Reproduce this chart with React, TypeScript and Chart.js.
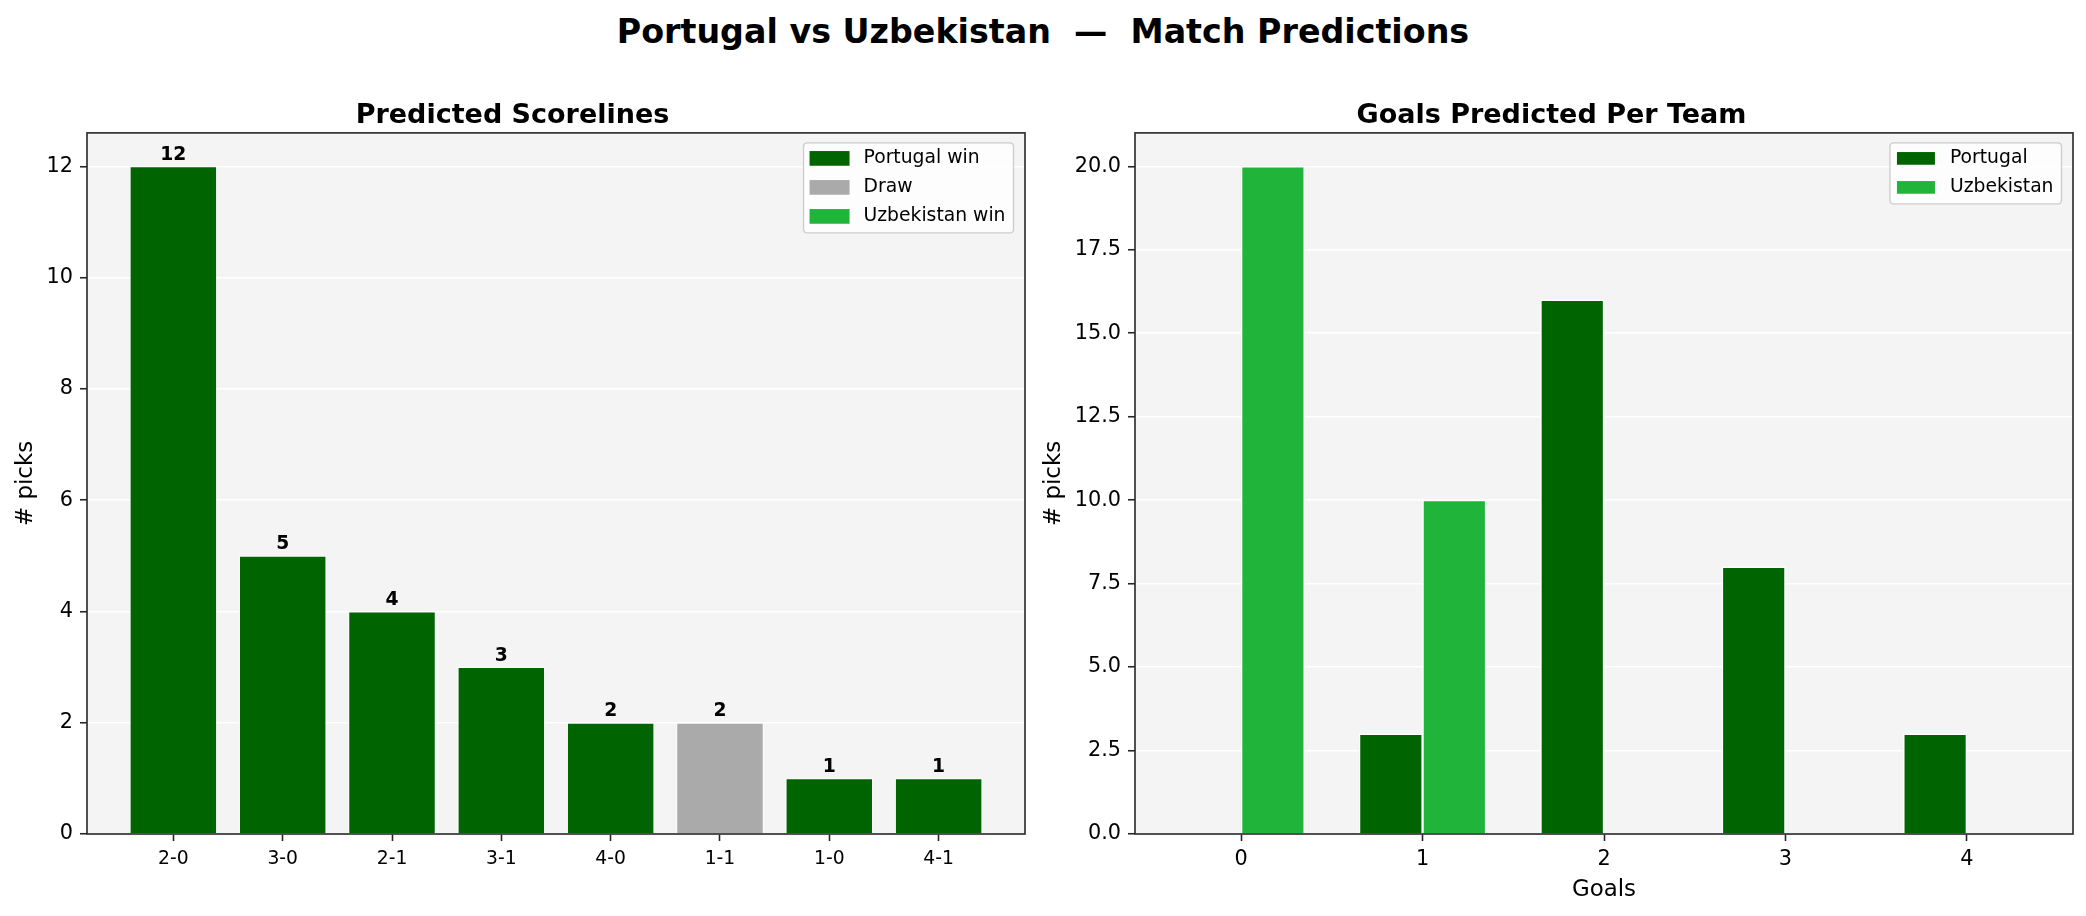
import React, { useEffect, useRef } from 'react';
import { Chart, registerables } from 'chart.js';

Chart.register(...registerables);

// ---- Predicted scorelines (left panel) ----
const scorelines = ['2-0', '3-0', '2-1', '3-1', '4-0', '1-1', '1-0', '4-1'];
const scorelinePicks = [12, 5, 4, 3, 2, 2, 1, 1];
const scorelineOutcome = [
  'Portugal win', 'Portugal win', 'Portugal win', 'Portugal win',
  'Portugal win', 'Draw', 'Portugal win', 'Portugal win',
];
const outcomeLabels = ['Portugal win', 'Draw', 'Uzbekistan win'];
const outcomeColors = ['#006400', '#aaaaaa', '#21b43a'];

// ---- Goals predicted per team (right panel) ----
const goalCounts = [0, 1, 2, 3, 4];
const portugalGoalPicks = [0, 3, 16, 8, 3];
const uzbekistanGoalPicks = [20, 10, 0, 0, 0];
const teamLabels = ['Portugal', 'Uzbekistan'];
const teamColors = ['#006400', '#21b43a'];

const FONT = "'DejaVu Sans', 'Liberation Sans', sans-serif";
const AXES_BG = '#f4f4f4';
const SPINE = '#262626';
const GOAL_BAR_WIDTH = 0.35;

Chart.defaults.font.family = FONT;
Chart.defaults.color = '#000';

type DecorOptions = {
  valueLabels: boolean;
  handleInset: number;
};

// Axes face, value labels, spines and a matplotlib-style legend box.
function axesDecor(opts: DecorOptions) {
  return {
    id: 'axesDecor',
    beforeDraw(chart: any) {
      const { ctx, chartArea: a } = chart;
      ctx.save();
      ctx.fillStyle = AXES_BG;
      ctx.fillRect(a.left, a.top, a.right - a.left, a.bottom - a.top);
      ctx.restore();
    },
    afterDraw(chart: any) {
      const { ctx, chartArea: a } = chart;
      ctx.save();

      if (opts.valueLabels) {
        ctx.font = `bold 18.75px ${FONT}`;
        ctx.fillStyle = '#000';
        ctx.textAlign = 'center';
        ctx.textBaseline = 'alphabetic';
        chart.data.datasets.forEach((ds: any, di: number) => {
          const meta = chart.getDatasetMeta(di);
          meta.data.forEach((el: any, i: number) => {
            const v = ds.data[i].y;
            ctx.fillText(String(v), el.x, el.y - 6.5);
          });
        });
      }

      // spines
      ctx.strokeStyle = SPINE;
      ctx.lineWidth = 1.6;
      ctx.strokeRect(a.left, a.top, a.right - a.left, a.bottom - a.top);

      // legend
      const items = chart.data.datasets.map((ds: any) => ({
        label: ds.label,
        color: ds.backgroundColor,
      }));
      ctx.font = `18.75px ${FONT}`;
      const textW = Math.max(...items.map((it: any) => ctx.measureText(it.label).width));
      const rowH = 29;
      const boxW = 60 + textW + 8;
      const boxH = 15.5 + rowH * (items.length - 1) + 16.5;
      const boxR = a.right - 11.5;
      const boxL = boxR - boxW;
      const boxT = a.top + 10;

      ctx.beginPath();
      const r = 4;
      ctx.moveTo(boxL + r, boxT);
      ctx.lineTo(boxR - r, boxT);
      ctx.quadraticCurveTo(boxR, boxT, boxR, boxT + r);
      ctx.lineTo(boxR, boxT + boxH - r);
      ctx.quadraticCurveTo(boxR, boxT + boxH, boxR - r, boxT + boxH);
      ctx.lineTo(boxL + r, boxT + boxH);
      ctx.quadraticCurveTo(boxL, boxT + boxH, boxL, boxT + boxH - r);
      ctx.lineTo(boxL, boxT + r);
      ctx.quadraticCurveTo(boxL, boxT, boxL + r, boxT);
      ctx.closePath();
      ctx.fillStyle = 'rgba(255,255,255,0.8)';
      ctx.fill();
      ctx.strokeStyle = '#cccccc';
      ctx.lineWidth = 1.3;
      ctx.stroke();

      items.forEach((it: any, i: number) => {
        const cy = boxT + 15.5 + i * rowH;
        const hx = boxL + 6;
        const hy = cy - 7.35;
        ctx.fillStyle = it.color;
        ctx.fillRect(hx, hy, 40, 14.7);
        if (opts.handleInset > 0) {
          ctx.strokeStyle = '#ffffff';
          ctx.lineWidth = opts.handleInset * 2;
          ctx.strokeRect(hx, hy, 40, 14.7);
        }
        ctx.fillStyle = '#000';
        ctx.textAlign = 'left';
        ctx.textBaseline = 'middle';
        ctx.fillText(it.label, boxL + 60, cy);
      });

      ctx.restore();
    },
  };
}

function baseXAxis(min: number, max: number, fontSize: number, pad: number, labelOf: (v: number) => string) {
  return {
    type: 'linear' as const,
    min,
    max,
    offset: false,
    border: { display: false },
    grid: {
      offset: false,
      drawOnChartArea: false,
      drawTicks: true,
      tickLength: 7,
      tickWidth: 1.6,
      tickColor: SPINE,
    },
    ticks: {
      stepSize: 1,
      includeBounds: false,
      autoSkip: false,
      maxRotation: 0,
      padding: pad,
      color: '#000',
      font: { size: fontSize, family: FONT },
      callback: (v: any) => labelOf(Number(v)),
    },
  };
}

function baseYAxis(max: number, step: number, fmt: (v: number) => string, width: number, titlePad: number) {
  return {
    type: 'linear' as const,
    min: 0,
    max,
    border: { display: false },
    grid: {
      color: '#ffffff',
      lineWidth: 1.5,
      drawTicks: true,
      tickLength: 7,
      tickWidth: 1.6,
      tickColor: SPINE,
    },
    ticks: {
      stepSize: step,
      includeBounds: false,
      padding: 7,
      color: '#000',
      font: { size: 20.8, family: FONT },
      callback: (v: any) => fmt(Number(v)),
    },
    title: {
      display: true,
      text: '# picks',
      color: '#000',
      font: { size: 22.9, family: FONT },
      padding: { top: titlePad, bottom: 0 },
    },
    afterFit: (scale: any) => {
      scale.width = width;
    },
  };
}

function panelTitle(text: string) {
  return {
    display: true,
    text,
    color: '#000',
    font: { size: 27, weight: 'bold' as const, family: FONT },
    padding: { top: 0, bottom: 1 },
  };
}

export default function App() {
  const leftRef = useRef<HTMLCanvasElement | null>(null);
  const rightRef = useRef<HTMLCanvasElement | null>(null);

  useEffect(() => {
    if (!leftRef.current || !rightRef.current) return;

    const scorelineDatasets = outcomeLabels.map((label, k) => ({
      label,
      data: scorelines
        .map((_, i) => i)
        .filter((i) => scorelineOutcome[i] === label)
        .map((i) => ({ x: i, y: scorelinePicks[i] })),
      backgroundColor: outcomeColors[k],
      borderColor: '#ffffff',
      borderWidth: 1,
      grouped: false,
      categoryPercentage: 0.8,
      barPercentage: 1,
    }));

    const teamPicks = [portugalGoalPicks, uzbekistanGoalPicks];
    const teamShift = [-GOAL_BAR_WIDTH / 2, GOAL_BAR_WIDTH / 2];
    const goalDatasets = teamLabels.map((label, k) => ({
      label,
      data: goalCounts.map((g, i) => ({ x: g + teamShift[k], y: teamPicks[k][i] })),
      backgroundColor: teamColors[k],
      borderColor: '#ffffff',
      borderWidth: 1.5,
      grouped: false,
      categoryPercentage: 1,
      barPercentage: 1,
    }));

    const left = new Chart(leftRef.current, {
      type: 'bar',
      data: { datasets: scorelineDatasets as any },
      options: {
        responsive: false,
        maintainAspectRatio: false,
        animation: false,
        devicePixelRatio: 1,
        layout: { padding: { left: 0, right: 18, top: 99.5, bottom: 0 } },
        plugins: {
          legend: { display: false },
          tooltip: { enabled: false },
          title: panelTitle('Predicted Scorelines'),
        },
        scales: {
          x: {
            ...baseXAxis(-0.79, 7.79, 18.75, 7, (v) => scorelines[v] ?? ''),
            afterFit: (scale: any) => {
              scale.height = 82;
            },
          },
          y: baseYAxis(12.6, 2, (v) => String(Math.round(v)), 87, 12),
        },
      } as any,
      plugins: [axesDecor({ valueLabels: true, handleInset: 0 })],
    });

    const right = new Chart(rightRef.current, {
      type: 'bar',
      data: { datasets: goalDatasets as any },
      options: {
        responsive: false,
        maintainAspectRatio: false,
        animation: false,
        devicePixelRatio: 1,
        layout: { padding: { left: 0, right: 13, top: 99.5, bottom: 0 } },
        plugins: {
          legend: { display: false },
          tooltip: { enabled: false },
          title: panelTitle('Goals Predicted Per Team'),
        },
        scales: {
          x: {
            ...baseXAxis(-0.585, 4.585, 20.8, 6, (v) => (goalCounts.includes(v) ? String(v) : '')),
            title: {
              display: true,
              text: 'Goals',
              color: '#000',
              font: { size: 22.9, family: FONT },
              padding: { top: 0, bottom: 12 },
            },
            afterFit: (scale: any) => {
              scale.height = 82;
            },
          },
          y: baseYAxis(21, 2.5, (v) => v.toFixed(1), 105, 10.3),
        },
      } as any,
      plugins: [axesDecor({ valueLabels: false, handleInset: 1 })],
    });

    return () => {
      left.destroy();
      right.destroy();
    };
  }, []);

  return (
    <div
      style={{
        position: 'absolute',
        left: 0,
        top: 0,
        width: 2086,
        height: 916,
        background: '#ffffff',
        overflow: 'hidden',
      }}
    >
      <div
        style={{
          position: 'absolute',
          left: 0,
          top: 12,
          width: 2086,
          textAlign: 'center',
          fontFamily: FONT,
          fontWeight: 'bold',
          fontSize: '33.3px',
          lineHeight: '40px',
          color: '#000',
          whiteSpace: 'pre',
        }}
      >
        {'Portugal vs Uzbekistan  —  Match Predictions'}
      </div>
      <canvas
        ref={leftRef}
        width={1043}
        height={916}
        style={{ position: 'absolute', left: 0, top: 0, width: 1043, height: 916 }}
      />
      <canvas
        ref={rightRef}
        width={1056}
        height={916}
        style={{ position: 'absolute', left: 1030, top: 0, width: 1056, height: 916 }}
      />
    </div>
  );
}
